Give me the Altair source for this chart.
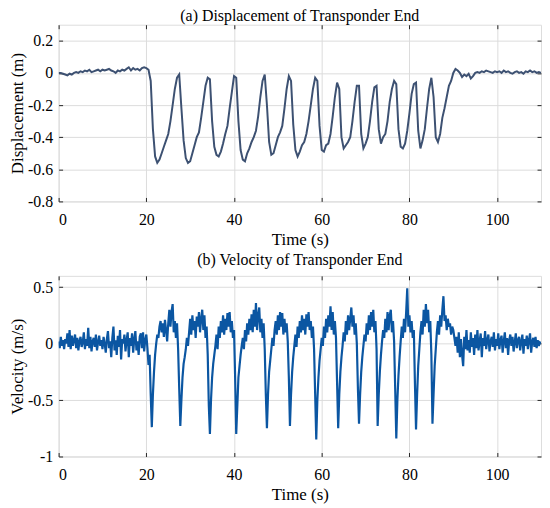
import altair as alt
import pandas as pd

# ---------------- data ----------------
disp_step = 0.5  # s
disp_values = [
    0.00, 0.00, -0.005, -0.01, -0.015, -0.005, -0.01, 0.0, 0.005, 0.0,
    0.01, 0.005, 0.015, 0.01, 0.02, 0.005, 0.01, 0.015, 0.02, 0.01,
    0.02, 0.015, 0.02, 0.025, 0.015, 0.01, 0.0, 0.015, 0.01, 0.02,
    0.015, 0.025, 0.035, 0.015, 0.03, 0.02, 0.025, 0.015, 0.03, 0.035,
    0.03, 0.02, -0.05, -0.35, -0.52, -0.56, -0.54, -0.50, -0.46, -0.42,
    -0.38, -0.30, -0.20, -0.10, -0.03, -0.01, -0.22, -0.42, -0.53, -0.56,
    -0.55, -0.50, -0.45, -0.40, -0.37, -0.28, -0.18, -0.08, -0.03, -0.04,
    -0.30, -0.46, -0.51, -0.52, -0.49, -0.44, -0.38, -0.33, -0.22, -0.12,
    -0.02, -0.03, -0.30, -0.48, -0.54, -0.55, -0.50, -0.47, -0.43, -0.40,
    -0.36, -0.27, -0.15, -0.05, -0.01, -0.20, -0.43, -0.51, -0.50, -0.45,
    -0.40, -0.37, -0.33, -0.22, -0.10, -0.02, -0.05, -0.32, -0.48, -0.52,
    -0.49, -0.45, -0.43, -0.38, -0.30, -0.20, -0.10, -0.03, -0.05, -0.33,
    -0.48, -0.49, -0.45, -0.44, -0.38, -0.27, -0.15, -0.06, -0.10, -0.40,
    -0.47, -0.45, -0.43, -0.40, -0.30, -0.18, -0.08, -0.08, -0.38, -0.47,
    -0.44, -0.40, -0.30, -0.18, -0.09, -0.08, -0.35, -0.44, -0.40, -0.38,
    -0.30, -0.18, -0.10, -0.05, -0.07, -0.35, -0.46, -0.47, -0.44, -0.36,
    -0.25, -0.13, -0.07, -0.06, -0.36, -0.47, -0.42, -0.35, -0.22, -0.10,
    -0.03, -0.15, -0.40, -0.43, -0.38, -0.28, -0.22, -0.15, -0.08, -0.05,
    0.0, 0.025, 0.015, 0.0, -0.025, -0.01, -0.02, -0.005, -0.035, -0.02,
    0.0, 0.005, 0.0, 0.01, 0.005, 0.015, 0.01, 0.005, 0.0, 0.01,
    0.005, 0.01, 0.0, 0.015, 0.005, 0.01, 0.0, -0.005, 0.005, 0.01,
    0.0, 0.005, -0.005, 0.01, 0.005, 0.015, 0.005, 0.01, 0.0, 0.005,
    0.0,
]

vel_step = 0.25  # s
vel_values = [
    0.02, -0.04, 0.06, -0.02, 0.03, -0.05, 0.04, 0.0, 0.09, -0.03, 0.12, -0.05, 0.07, -0.02, 0.03, 0.08, -0.04, 0.05, -0.06, 0.02,
    0.06, -0.03, 0.01, 0.10, -0.05, 0.04, -0.02, 0.14, -0.04, 0.06, -0.07, 0.02, 0.05, -0.03, 0.08, -0.06, 0.01, 0.07, -0.02, 0.03,
    -0.05, 0.06, 0.0, -0.08, 0.04, 0.11, -0.04, 0.02, -0.12, 0.05, 0.15, -0.06, 0.03, -0.10, 0.07, -0.03, 0.12, -0.14, 0.04, 0.0,
    0.08, -0.07, 0.03, 0.10, -0.12, 0.05, -0.02, 0.09, -0.08, 0.04, 0.11, -0.06, 0.02, -0.10, 0.06, 0.09, -0.04, 0.10, -0.07, 0.03,
    0.08, -0.04, -0.19, -0.10, -0.45, -0.74, -0.45, -0.25, -0.10, 0.0, 0.08, 0.05, 0.15, 0.20, 0.10, 0.18, 0.06, 0.21, 0.12, 0.02,
    0.18, 0.30, 0.15, 0.28, 0.35, 0.10, 0.20, 0.05, 0.18, -0.05, -0.40, -0.73, -0.50, -0.30, -0.18, -0.12, -0.05, 0.05, -0.02, 0.10,
    0.22, 0.08, 0.25, 0.12, 0.20, 0.05, 0.24, 0.15, 0.28, 0.10, 0.22, 0.30, 0.12, 0.25, 0.05, 0.15, -0.10, -0.55, -0.80, -0.50,
    -0.30, -0.18, -0.10, -0.02, 0.08, -0.05, 0.15, 0.05, 0.20, 0.10, 0.25, 0.08, 0.22, 0.12, 0.27, 0.15, 0.28, 0.10, 0.20, 0.05,
    0.12, -0.30, -0.80, -0.55, -0.30, -0.20, -0.10, -0.02, 0.05, -0.05, 0.12, 0.02, 0.18, 0.08, 0.22, 0.12, 0.26, 0.10, 0.30, 0.15,
    0.36, 0.12, 0.25, 0.32, 0.10, 0.22, 0.05, 0.18, -0.05, -0.45, -0.75, -0.45, -0.25, -0.15, -0.05, 0.05, -0.02, 0.12, 0.20, 0.08,
    0.25, 0.12, 0.28, 0.15, 0.27, 0.08, 0.22, 0.10, 0.18, 0.02, -0.30, -0.73, -0.45, -0.25, -0.12, -0.02, 0.08, -0.03, 0.15, 0.05,
    0.20, 0.10, 0.25, 0.12, 0.22, 0.08, 0.26, 0.15, 0.28, 0.12, 0.20, 0.05, 0.15, -0.05, -0.45, -0.85, -0.50, -0.30, -0.15, -0.05,
    0.05, -0.02, 0.15, 0.05, 0.22, 0.10, 0.25, 0.15, 0.33, 0.12, 0.28, 0.08, 0.20, 0.05, -0.35, -0.75, -0.45, -0.25, -0.12, -0.02,
    0.10, 0.02, 0.20, 0.08, 0.25, 0.12, 0.22, 0.32, 0.15, 0.25, 0.08, 0.18, 0.0, -0.40, -0.71, -0.45, -0.25, -0.12, -0.02, 0.08,
    0.02, 0.18, 0.08, 0.25, 0.12, 0.28, 0.15, 0.30, 0.10, 0.20, -0.05, -0.73, -0.45, -0.25, -0.10, 0.02, 0.12, 0.05, 0.22, 0.10,
    0.28, 0.12, 0.25, 0.30, 0.10, 0.20, 0.02, -0.40, -0.84, -0.50, -0.28, -0.12, 0.02, 0.15, 0.05, 0.22, 0.10, 0.28, 0.49, 0.15,
    0.25, 0.10, 0.20, 0.05, 0.12, -0.35, -0.76, -0.45, -0.20, -0.05, 0.10, 0.20, 0.08, 0.30, 0.15, 0.35, 0.18, 0.30, 0.10, 0.20,
    -0.10, -0.71, -0.45, -0.20, -0.05, 0.10, 0.20, 0.08, 0.25, 0.15, 0.30, 0.42, 0.20, 0.25, 0.12, 0.22, 0.15, 0.18, 0.08, 0.15,
    0.12, 0.05, -0.02, 0.06, -0.08, 0.10, -0.12, 0.04, -0.10, -0.20, 0.06, -0.05, 0.12, -0.06, 0.03, -0.08, 0.10, -0.03, 0.05, -0.10,
    0.08, -0.04, 0.12, -0.06, 0.02, 0.09, -0.12, 0.05, -0.02, 0.11, -0.05, 0.03, 0.08, -0.07, 0.02, 0.06, -0.03, 0.10, -0.06, 0.04,
    -0.02, 0.09, -0.05, 0.03, 0.07, -0.08, 0.02, 0.10, -0.04, 0.05, -0.10, 0.03, 0.08, -0.02, 0.06, -0.07, 0.01, 0.09, -0.04, 0.03,
    0.06, -0.06, 0.02, 0.08, -0.09, 0.04, -0.02, 0.07, -0.05, 0.03, 0.09, -0.08, 0.02, 0.05, -0.03, 0.06, -0.04, 0.03, -0.02, 0.01,
    0.0,
]

x_domain = [0, 110]
x_ticks = [0, 20, 40, 60, 80, 100]
disp_domain = [-0.8, 0.3]
disp_ticks = [-0.8, -0.6, -0.4, -0.2, 0, 0.2]
vel_domain = [-1, 0.6]
vel_ticks = [-1, -0.5, 0, 0.5]

title_a = "(a) Displacement of Transponder End"
title_b = "(b) Velocity of Transponder End"
x_title = "Time (s)"
ya_title = "Displacement (m)"
yb_title = "Velocity (m/s)"

disp_color = "#3d5172"
vel_color = "#0b56a2"

# ---------------- chart ----------------
FONT = "'Liberation Serif', 'Times New Roman', Times, serif"
INK = "#262626"
LABEL_EXPR = "replace(format(datum.value, ''), '\u2212', '-')"

df_d = pd.DataFrame({"t": [i * disp_step for i in range(len(disp_values))], "v": disp_values})
df_v = pd.DataFrame({"t": [i * vel_step for i in range(len(vel_values))], "v": vel_values})


def main_axis_x(ticks):
    return alt.Axis(
        orient="bottom", values=ticks, title=x_title, grid=True, gridColor="#dcdcdc",
        domain=False, ticks=True, tickSize=4, offset=-4, tickColor=INK,
        labelFont=FONT, labelFontSize=16, labelColor="black", labelPadding=10,
        labelExpr=LABEL_EXPR, titleFont=FONT, titleFontSize=17,
        titleFontWeight="normal", titleColor="black", titlePadding=4,
    )


def main_axis_y(ticks, title):
    return alt.Axis(
        orient="left", values=ticks, title=title, grid=True, gridColor="#dcdcdc",
        domain=False, ticks=True, tickSize=4, offset=-4, tickColor=INK,
        labelFont=FONT, labelFontSize=16, labelColor="black", labelPadding=6,
        labelExpr=LABEL_EXPR, titleFont=FONT, titleFontSize=17,
        titleFontWeight="normal", titleColor="black", titlePadding=1,
    )


def tick_axis(orient, ticks):
    return alt.Axis(
        orient=orient, values=ticks, title=None, grid=False, labels=False,
        domain=False, ticks=True, tickSize=4, offset=-4, tickColor=INK,
    )


def panel(df, color, width, ydom, yticks, ytitle, title, h, title_offset):
    line = alt.Chart(df).mark_line(color=color, strokeWidth=width, clip=True).encode(
        x=alt.X("t:Q", scale=alt.Scale(domain=x_domain, nice=False, zero=False),
                axis=main_axis_x(x_ticks)),
        y=alt.Y("v:Q", scale=alt.Scale(domain=ydom, nice=False, zero=False),
                axis=main_axis_y(yticks, ytitle)),
    )
    ghost = alt.Chart(df).mark_line(strokeOpacity=0).encode(
        x=alt.X("t:Q", scale=alt.Scale(domain=x_domain, nice=False, zero=False),
                axis=tick_axis("top", x_ticks)),
        y=alt.Y("v:Q", scale=alt.Scale(domain=ydom, nice=False, zero=False),
                axis=tick_axis("right", yticks)),
    )
    return alt.layer(ghost, line).resolve_scale(x="independent", y="independent").properties(
        width=486, height=h,
        title=alt.TitleParams(title, font=FONT, fontSize=16, fontWeight="normal",
                              color="black", anchor="middle", offset=title_offset),
    )


top = panel(df_d, disp_color, 2, disp_domain, disp_ticks, ya_title, title_a, 178, 0)
bottom = panel(df_v, vel_color, 2.2, vel_domain, vel_ticks, yb_title, title_b, 182, 7)

chart = alt.vconcat(top, bottom, spacing=4).properties(
    padding={"left": 0, "top": -2, "right": 0, "bottom": 0}
).configure_view(stroke=INK, strokeWidth=1).configure(background="white")

chart.save("out.html", embed_options={"renderer": "svg", "actions": False})
